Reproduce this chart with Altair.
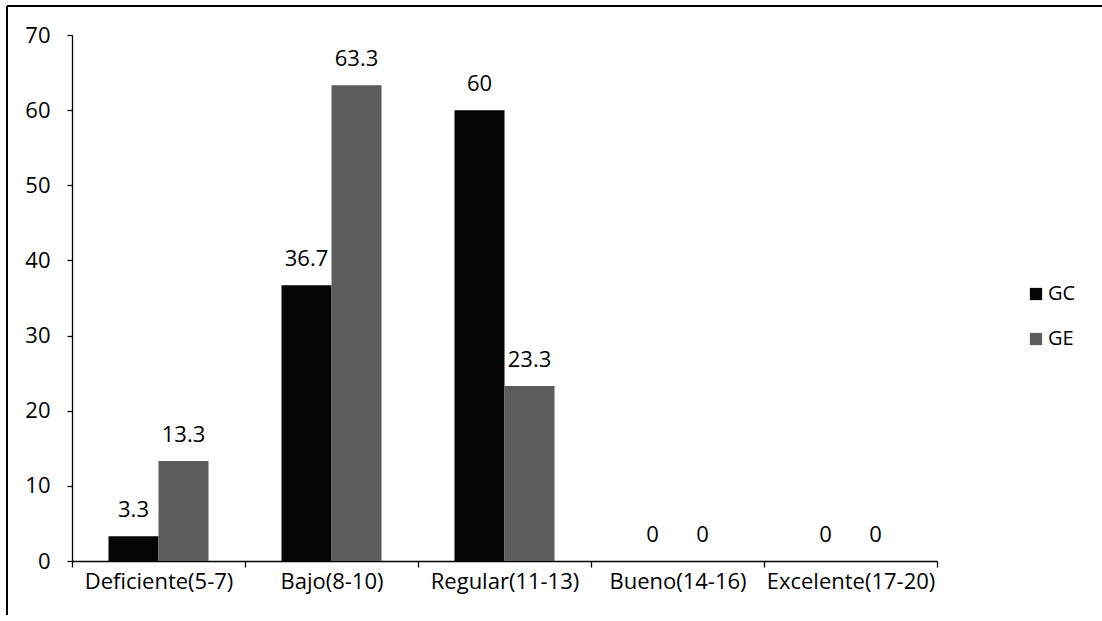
import altair as alt
import pandas as pd

# Score bands and the share (%) of each group falling into them
categories = ["Deficiente(5-7)", "Bajo(8-10)", "Regular(11-13)", "Bueno(14-16)", "Excelente(17-20)"]
groups = ["GC", "GE"]
gc_values = [3.3, 36.7, 60, 0, 0]
ge_values = [13.3, 63.3, 23.3, 0, 0]
y_ticks = [0, 10, 20, 30, 40, 50, 60, 70]

rows = []
for cat, a, b in zip(categories, gc_values, ge_values):
    rows.append({"nivel": cat, "grupo": "GC", "valor": a, "etiqueta": f"{a:g}"})
    rows.append({"nivel": cat, "grupo": "GE", "valor": b, "etiqueta": f"{b:g}"})
df = pd.DataFrame(rows)

FONT = "Open Sans"
FS = 22

x_enc = alt.X(
    "nivel:N",
    sort=categories,
    scale=alt.Scale(paddingInner=0, paddingOuter=0),
    axis=alt.Axis(
        title=None,
        labelAngle=0,
        tickBand="extent",
        tickSize=6,
        labelPadding=4,
        domainColor="black",
        tickColor="black",
        domainWidth=1.3,
        tickWidth=1.3,
        labelFontSize=FS,
        labelColor="black",
        labelFont=FONT,
    ),
)
xoff = alt.XOffset("grupo:N", sort=groups, scale=alt.Scale(paddingInner=0, paddingOuter=0.73))
y_enc = alt.Y(
    "valor:Q",
    scale=alt.Scale(domain=[0, 70], nice=False),
    axis=alt.Axis(
        title=None,
        values=y_ticks,
        grid=False,
        tickSize=5,
        labelPadding=17,
        domainColor="black",
        tickColor="black",
        domainWidth=1.3,
        tickWidth=1.3,
        labelFontSize=FS,
        labelColor="black",
        labelFont=FONT,
    ),
)
color_enc = alt.Color(
    "grupo:N",
    sort=groups,
    scale=alt.Scale(domain=groups, range=["#050505", "#5c5c5c"]),
    legend=alt.Legend(
        title=None,
        orient="none",
        legendX=954,
        legendY=249,
        symbolType="square",
        symbolSize=150,
        symbolStrokeWidth=0,
        labelFontSize=FS - 2,
        labelFont=FONT,
        labelColor="black",
        rowPadding=25,
        labelOffset=2,
    ),
)

bars = alt.Chart(df).mark_bar(size=50).encode(
    x=x_enc, xOffset=xoff, y=y_enc, color=color_enc
)

labels = alt.Chart(df).mark_text(
    baseline="middle", dy=-26, fontSize=FS, font=FONT, color="black"
).encode(
    x=alt.X("nivel:N", sort=categories),
    xOffset=alt.XOffset("grupo:N", sort=groups),
    y="valor:Q",
    text="etiqueta:N",
)

# Outer frame lines along the left and top of the figure
frame_left = alt.Chart(df).mark_rule(color="black", strokeWidth=1.2).encode(
    x=alt.value(-65), y=alt.value(-29), y2=alt.value(580)
)
frame_top = alt.Chart(df).mark_rule(color="black", strokeWidth=1.2).encode(
    x=alt.value(-65), x2=alt.value(1040), y=alt.value(-29)
)

chart = (
    alt.layer(bars, labels, frame_left, frame_top)
    .properties(
        width=865,
        height=526,
        autosize=alt.AutoSizeParams(type="none"),
        padding={"left": 72, "top": 35, "right": 165, "bottom": 60},
        background="white",
    )
    .configure_view(stroke=None)
)

chart.save("out.html", embed_options={"renderer": "svg", "actions": False})
